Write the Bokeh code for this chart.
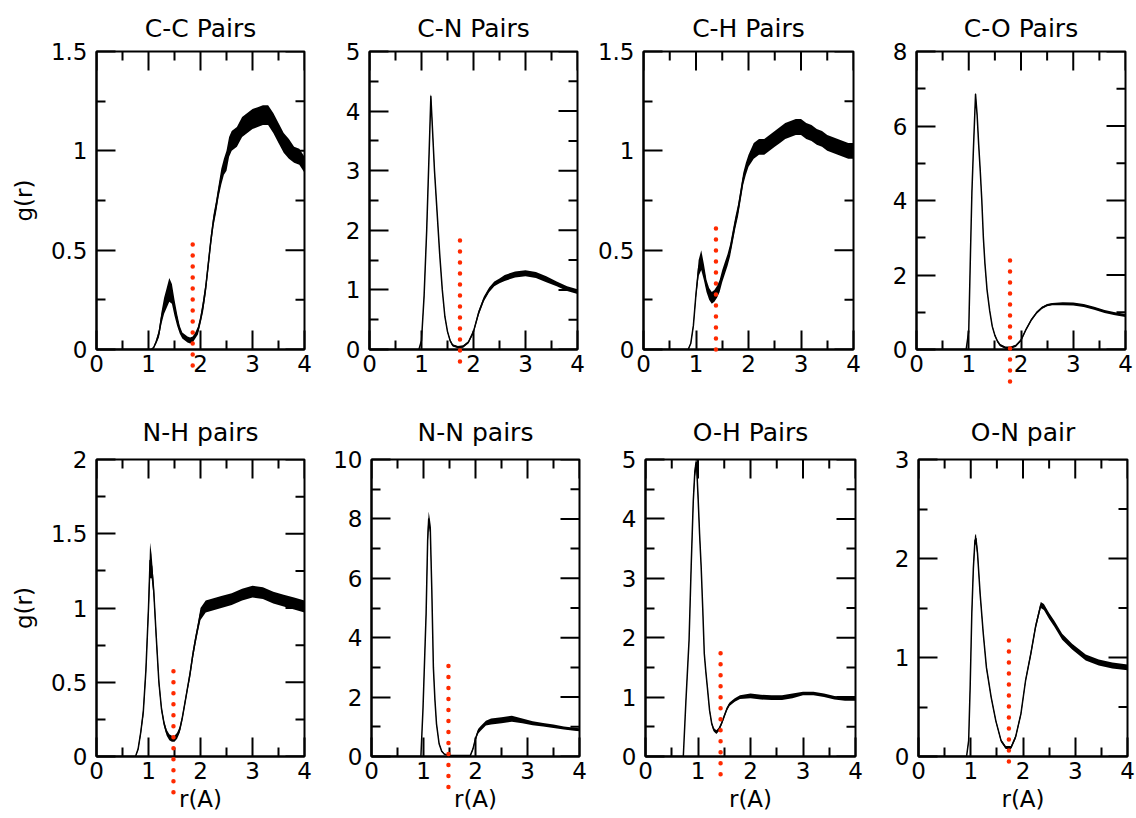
import numpy as np
from bokeh.plotting import figure
from bokeh.layouts import column, row
from bokeh.models import LinearAxis, FixedTicker, ColumnDataSource, Range1d
from bokeh.embed import file_html
from bokeh.resources import INLINE

FONT = "DejaVu Sans"

# ---------------- data ----------------
titles = ["C-C Pairs", "C-N Pairs", "C-H Pairs", "C-O Pairs",
          "N-H pairs", "N-N pairs", "O-H Pairs", "O-N pair"]

x_ticks = [0, 1, 2, 3, 4]
x_minor = [0.5, 1.5, 2.5, 3.5]
x_tick_labels = ["0", "1", "2", "3", "4"]
x_max = 4

y_max = [1.5, 5, 1.5, 8, 2, 10, 5, 3]
y_ticks = [[0, 0.5, 1, 1.5], [0, 1, 2, 3, 4, 5], [0, 0.5, 1, 1.5], [0, 2, 4, 6, 8],
           [0, 0.5, 1, 1.5, 2], [0, 2, 4, 6, 8, 10], [0, 1, 2, 3, 4, 5], [0, 1, 2, 3]]
y_tick_labels = [["0", "0.5", "1", "1.5"], ["0", "1", "2", "3", "4", "5"],
                 ["0", "0.5", "1", "1.5"], ["0", "2", "4", "6", "8"],
                 ["0", "0.5", "1", "1.5", "2"], ["0", "2", "4", "6", "8", "10"],
                 ["0", "1", "2", "3", "4", "5"], ["0", "1", "2", "3"]]
y_minor = [[0.25, 0.75, 1.25], [0.5, 1.5, 2.5, 3.5, 4.5], [0.25, 0.75, 1.25], [1, 3, 5, 7],
           [0.25, 0.75, 1.25, 1.75], [1, 3, 5, 7, 9], [0.5, 1.5, 2.5, 3.5, 4.5], [0.5, 1.5, 2.5]]

# C-C
r_cc = [0, 1.05, 1.1, 1.15, 1.2, 1.25, 1.3, 1.35, 1.4, 1.45, 1.5, 1.55, 1.6, 1.65, 1.7, 1.75,
        1.8, 1.85, 1.9, 1.95, 2.0, 2.05, 2.1, 2.15, 2.2, 2.25, 2.3, 2.35, 2.4, 2.45, 2.5, 2.55,
        2.6, 2.7, 2.8, 2.9, 3.0, 3.1, 3.2, 3.3, 3.4, 3.5, 3.6, 3.7, 3.8, 3.9, 4.0]
g_cc = [0, 0, 0.01, 0.04, 0.08, 0.16, 0.22, 0.26, 0.30, 0.28, 0.21, 0.15, 0.10, 0.07, 0.06, 0.05,
        0.045, 0.05, 0.07, 0.095, 0.15, 0.22, 0.31, 0.43, 0.55, 0.65, 0.72, 0.80, 0.87, 0.92, 0.95, 1.02,
        1.05, 1.07, 1.12, 1.14, 1.16, 1.17, 1.18, 1.18, 1.14, 1.09, 1.04, 1.01, 0.98, 0.97, 0.93]
n_cc = [0, 0, 0.005, 0.01, 0.02, 0.03, 0.04, 0.05, 0.06, 0.05, 0.04, 0.03, 0.02, 0.015, 0.015, 0.015,
        0.015, 0.015, 0.015, 0.02, 0.02, 0.03, 0.03, 0.03, 0.03, 0.03, 0.03, 0.03, 0.04, 0.04, 0.05, 0.05,
        0.05, 0.05, 0.05, 0.05, 0.05, 0.05, 0.05, 0.05, 0.05, 0.05, 0.05, 0.05, 0.04, 0.04, 0.04]

# C-N
r_cn = [0, 0.95, 1.0, 1.05, 1.1, 1.15, 1.18, 1.2, 1.25, 1.3, 1.35, 1.4, 1.45, 1.5, 1.55, 1.6, 1.7,
        1.8, 1.9, 2.0, 2.1, 2.2, 2.3, 2.4, 2.5, 2.6, 2.8, 3.0, 3.2, 3.4, 3.6, 3.8, 4.0]
g_cn = [0, 0, 0.15, 0.9, 2.0, 3.4, 4.25, 3.9, 3.0, 2.3, 1.6, 1.0, 0.55, 0.3, 0.15, 0.07, 0.04,
        0.05, 0.12, 0.3, 0.62, 0.85, 1.0, 1.1, 1.15, 1.2, 1.26, 1.28, 1.25, 1.18, 1.1, 1.02, 0.97]
n_cn = [0, 0, 0.02, 0.04, 0.05, 0.05, 0.05, 0.05, 0.04, 0.03, 0.02, 0.02, 0.02, 0.02, 0.02, 0.02, 0.02,
        0.02, 0.02, 0.03, 0.04, 0.04, 0.04, 0.04, 0.04, 0.05, 0.05, 0.05, 0.05, 0.05, 0.04, 0.04, 0.04]

# C-H
r_ch = [0, 0.85, 0.9, 0.95, 1.0, 1.05, 1.1, 1.15, 1.2, 1.25, 1.3, 1.35, 1.4, 1.45, 1.5, 1.55, 1.6,
        1.65, 1.7, 1.75, 1.8, 1.85, 1.9, 1.95, 2.0, 2.1, 2.2, 2.3, 2.4, 2.5, 2.6, 2.7, 2.8, 2.9, 3.0,
        3.1, 3.2, 3.3, 3.4, 3.5, 3.6, 3.7, 3.8, 3.9, 4.0]
g_ch = [0, 0, 0.03, 0.12, 0.28, 0.41, 0.45, 0.39, 0.32, 0.28, 0.26, 0.27, 0.29, 0.32, 0.37, 0.41, 0.45,
        0.50, 0.57, 0.64, 0.70, 0.78, 0.86, 0.91, 0.95, 1.00, 1.02, 1.02, 1.04, 1.06, 1.08, 1.10, 1.11, 1.12, 1.12,
        1.10, 1.09, 1.07, 1.06, 1.04, 1.03, 1.02, 1.01, 1.00, 1.00]
n_ch = [0, 0, 0.005, 0.01, 0.02, 0.04, 0.05, 0.04, 0.03, 0.03, 0.03, 0.03, 0.03, 0.03, 0.03, 0.03, 0.03,
        0.03, 0.03, 0.03, 0.03, 0.03, 0.03, 0.03, 0.03, 0.04, 0.04, 0.04, 0.04, 0.04, 0.04, 0.04, 0.04, 0.04, 0.04,
        0.04, 0.04, 0.04, 0.04, 0.04, 0.04, 0.04, 0.04, 0.04, 0.04]

# C-O
r_co = [0, 0.95, 1.0, 1.03, 1.06, 1.09, 1.13, 1.16, 1.19, 1.22, 1.25, 1.28, 1.31, 1.35, 1.4, 1.45,
        1.5, 1.55, 1.6, 1.7, 1.8, 1.9, 2.0, 2.1, 2.2, 2.3, 2.4, 2.5, 2.6, 2.8, 3.0, 3.2, 3.4, 3.6, 3.8, 4.0]
g_co = [0, 0, 0.5, 2.4, 4.2, 5.4, 6.85, 6.3, 5.5, 4.8, 4.0, 3.0, 2.3, 1.6, 1.05, 0.62,
        0.38, 0.22, 0.12, 0.05, 0.05, 0.1, 0.25, 0.55, 0.8, 0.99, 1.12, 1.19, 1.22, 1.23, 1.22, 1.18, 1.11, 1.02, 0.96, 0.91]
n_co = [0, 0, 0.05, 0.05, 0.05, 0.05, 0.05, 0.05, 0.05, 0.05, 0.05, 0.05, 0.05, 0.03, 0.03, 0.03,
        0.03, 0.03, 0.03, 0.03, 0.03, 0.03, 0.03, 0.03, 0.03, 0.03, 0.03, 0.03, 0.03, 0.04, 0.04, 0.04, 0.04, 0.04, 0.04, 0.04]

# N-H
r_nh = [0, 0.75, 0.8, 0.85, 0.9, 0.95, 1.0, 1.03, 1.06, 1.1, 1.15, 1.2, 1.25, 1.3, 1.35, 1.4, 1.45,
        1.5, 1.55, 1.6, 1.65, 1.7, 1.75, 1.8, 1.85, 1.9, 1.95, 2.0, 2.1, 2.2, 2.4, 2.6, 2.8, 3.0, 3.2,
        3.4, 3.6, 3.8, 4.0]
g_nh = [0, 0, 0.05, 0.16, 0.3, 0.58, 1.0, 1.32, 1.28, 1.12, 0.8, 0.5, 0.32, 0.22, 0.16, 0.13, 0.12,
        0.12, 0.14, 0.18, 0.26, 0.36, 0.46, 0.56, 0.68, 0.78, 0.87, 0.96, 1.01, 1.02, 1.04, 1.06, 1.09, 1.11, 1.10,
        1.07, 1.05, 1.03, 1.01]
n_nh = [0, 0, 0.01, 0.02, 0.03, 0.04, 0.06, 0.12, 0.08, 0.05, 0.04, 0.03, 0.02, 0.02, 0.02, 0.02, 0.02,
        0.02, 0.02, 0.02, 0.02, 0.02, 0.02, 0.03, 0.03, 0.03, 0.03, 0.04, 0.04, 0.04, 0.04, 0.04, 0.04, 0.04, 0.04,
        0.04, 0.04, 0.04, 0.04]

# N-N
r_nn = [0, 0.95, 0.99, 1.02, 1.05, 1.08, 1.1, 1.13, 1.16, 1.19, 1.22, 1.25, 1.3, 1.35, 1.4, 1.5,
        1.9, 1.95, 2.0, 2.05, 2.1, 2.2, 2.3, 2.5, 2.7, 2.9, 3.1, 3.3, 3.5, 3.7, 3.9, 4.0]
g_nn = [0, 0, 1.6, 3.2, 4.8, 7.3, 8.0, 7.7, 5.6, 3.0, 1.9, 1.1, 0.43, 0.18, 0.08, 0.03,
        0.03, 0.25, 0.6, 0.85, 0.95, 1.12, 1.18, 1.22, 1.27, 1.2, 1.12, 1.07, 1.02, 0.96, 0.92, 0.9]
n_nn = [0, 0, 0.05, 0.08, 0.1, 0.3, 0.25, 0.2, 0.1, 0.08, 0.05, 0.05, 0.03, 0.02, 0.02, 0.02,
        0.02, 0.04, 0.06, 0.08, 0.08, 0.08, 0.1, 0.1, 0.1, 0.08, 0.07, 0.06, 0.06, 0.05, 0.05, 0.05]

# O-H
r_oh = [0, 0.72, 0.77, 0.8, 0.83, 0.87, 0.91, 0.94, 0.97, 1.0, 1.03, 1.06, 1.09, 1.12, 1.15, 1.18,
        1.22, 1.26, 1.3, 1.35, 1.4, 1.45, 1.5, 1.55, 1.6, 1.7, 1.8, 2.0, 2.2, 2.4, 2.6, 2.8, 3.0, 3.2,
        3.4, 3.6, 3.8, 4.0]
g_oh = [0, 0, 0.94, 1.45, 1.96, 3.2, 4.3, 4.8, 4.95, 4.4, 3.75, 3.2, 2.5, 1.73, 1.42, 1.15,
        0.78, 0.56, 0.45, 0.41, 0.46, 0.56, 0.68, 0.8, 0.88, 0.95, 1.0, 1.02, 1.0, 0.99, 0.99, 1.02, 1.06, 1.06,
        1.03, 0.99, 0.97, 0.97]
n_oh = [0, 0, 0.03, 0.03, 0.03, 0.05, 0.08, 0.1, 0.1, 0.08, 0.05, 0.04, 0.03, 0.03, 0.03, 0.03,
        0.03, 0.03, 0.03, 0.03, 0.03, 0.03, 0.03, 0.03, 0.03, 0.03, 0.03, 0.04, 0.04, 0.04, 0.04, 0.04, 0.03, 0.03,
        0.03, 0.03, 0.03, 0.03]

# O-N
r_on = [0, 0.92, 0.96, 0.99, 1.02, 1.05, 1.08, 1.1, 1.13, 1.18, 1.24, 1.3, 1.39, 1.48, 1.58, 1.67,
        1.77, 1.86, 1.96, 2.05, 2.15, 2.24, 2.34, 2.4, 2.5, 2.6, 2.75, 2.94, 3.2, 3.45, 3.71, 4.0]
g_on = [0, 0, 0.16, 0.73, 1.44, 1.9, 2.18, 2.2, 2.05, 1.64, 1.24, 0.9, 0.6, 0.36, 0.16, 0.09,
        0.09, 0.2, 0.43, 0.77, 1.04, 1.31, 1.53, 1.51, 1.42, 1.34, 1.21, 1.11, 1.0, 0.95, 0.92, 0.9]
n_on = [0, 0, 0.02, 0.03, 0.04, 0.05, 0.05, 0.05, 0.04, 0.03, 0.02, 0.02, 0.015, 0.015, 0.015, 0.015,
        0.015, 0.02, 0.02, 0.02, 0.03, 0.03, 0.03, 0.03, 0.03, 0.03, 0.03, 0.03, 0.03, 0.03, 0.03, 0.03]

series_r = [r_cc, r_cn, r_ch, r_co, r_nh, r_nn, r_oh, r_on]
series_g = [g_cc, g_cn, g_ch, g_co, g_nh, g_nn, g_oh, g_on]
series_n = [n_cc, n_cn, n_ch, n_co, n_nh, n_nn, n_oh, n_on]

# red dotted cut-off markers (position, bottom, top)
cut_r = [1.85, 1.74, 1.38, 1.79, 1.48, 1.48, 1.43, 1.73]
cut_lo = [-0.08, -0.2, 0.0, -0.86, -0.24, -1.03, -0.30, -0.05]
cut_hi = [0.56, 1.93, 0.646, 2.56, 0.62, 3.26, 1.83, 1.23]

# ---------------- layout ----------------
col_left = [96, 39, 55, 36]
col_right = [26, 11, 27, 9]
col_fw = [208, 208, 210, 209]
row_top = [51, 59]
row_bottom = [51, 60]
row_fh = [298, 297]
title_standoff = [18, 26]

FS = "23px"
TFS = "25px"
MAJ_LEN, MIN_LEN = 19, 9


def style_axis(ax, standoff):
    ax.axis_line_color = "black"
    ax.axis_line_width = 2
    ax.major_tick_line_color = "black"
    ax.major_tick_line_width = 2
    ax.minor_tick_line_color = "black"
    ax.minor_tick_line_width = 2
    ax.major_tick_in = MAJ_LEN
    ax.major_tick_out = 0
    ax.minor_tick_in = MIN_LEN
    ax.minor_tick_out = 0
    ax.major_label_text_font = FONT
    ax.major_label_text_color = "black"
    ax.major_label_text_font_size = FS
    ax.major_label_standoff = standoff


def style_label(ax, text, standoff):
    ax.axis_label = text
    ax.axis_label_text_font = FONT
    ax.axis_label_text_font_size = FS
    ax.axis_label_text_font_style = "normal"
    ax.axis_label_text_color = "black"
    ax.axis_label_standoff = standoff


figs = []
for i in range(8):
    c, rw = i % 4, i // 4
    p = figure(frame_width=col_fw[c], frame_height=row_fh[rw],
               x_range=Range1d(0, x_max), y_range=Range1d(0, y_max[i]),
               x_axis_type=None, y_axis_type=None,
               min_border_left=col_left[c], min_border_right=col_right[c],
               min_border_top=row_top[rw], min_border_bottom=row_bottom[rw],
               output_backend="svg", toolbar_location=None, title=titles[i])
    p.outline_line_color = "black"
    p.outline_line_width = 2
    p.background_fill_color = "white"
    p.border_fill_color = "white"
    p.title.text_font = FONT
    p.title.text_font_size = TFS
    p.title.text_font_style = "normal"
    p.title.text_color = "black"
    p.title.align = "center"
    p.title.standoff = title_standoff[rw]

    xt = FixedTicker(ticks=x_ticks, minor_ticks=x_minor)
    yt = FixedTicker(ticks=y_ticks[i], minor_ticks=y_minor[i])

    bx = LinearAxis(ticker=xt)
    style_axis(bx, 5)
    bx.major_label_overrides = {t: l for t, l in zip(x_ticks, x_tick_labels)}
    if rw == 1:
        style_label(bx, "r(A)", 4)
    p.add_layout(bx, "below")

    ly = LinearAxis(ticker=yt)
    style_axis(ly, 9)
    ly.major_label_overrides = {t: l for t, l in zip(y_ticks[i], y_tick_labels[i])}
    if c == 0:
        style_label(ly, "g(r)", 11)
    p.add_layout(ly, "left")

    # mirrored tick marks on the top and right edges
    ym = y_max[i]
    p.ray(x=x_ticks, y=[ym] * len(x_ticks), length=MAJ_LEN, length_units="screen",
          angle=-np.pi / 2, line_color="black", line_width=2)
    p.ray(x=x_minor, y=[ym] * len(x_minor), length=MIN_LEN, length_units="screen",
          angle=-np.pi / 2, line_color="black", line_width=2)
    p.ray(x=[x_max] * len(y_ticks[i]), y=y_ticks[i], length=MAJ_LEN, length_units="screen",
          angle=np.pi, line_color="black", line_width=2)
    p.ray(x=[x_max] * len(y_minor[i]), y=y_minor[i], length=MIN_LEN, length_units="screen",
          angle=np.pi, line_color="black", line_width=2)

    r = np.array(series_r[i], dtype=float)
    g = np.array(series_g[i], dtype=float)
    n = np.array(series_n[i], dtype=float)
    src = ColumnDataSource(dict(r=r, g=g, lo=np.clip(g - n, 0, None), hi=g + n))
    p.varea(x="r", y1="lo", y2="hi", source=src, fill_color="black")
    p.line(x="r", y="g", source=src, line_color="black", line_width=1.5, line_join="round")

    csrc = ColumnDataSource(dict(x=[cut_r[i]], y0=[cut_lo[i]], y1=[cut_hi[i]]))
    p.segment(x0="x", y0="y0", x1="x", y1="y1", source=csrc, line_color="#ff2a00",
              line_width=4.5, line_dash="0 11", line_cap="round", level="annotation")
    figs.append(p)

layout = column(row(*figs[:4]), row(*figs[4:]))
open("out.html", "w").write(file_html(layout, INLINE))
